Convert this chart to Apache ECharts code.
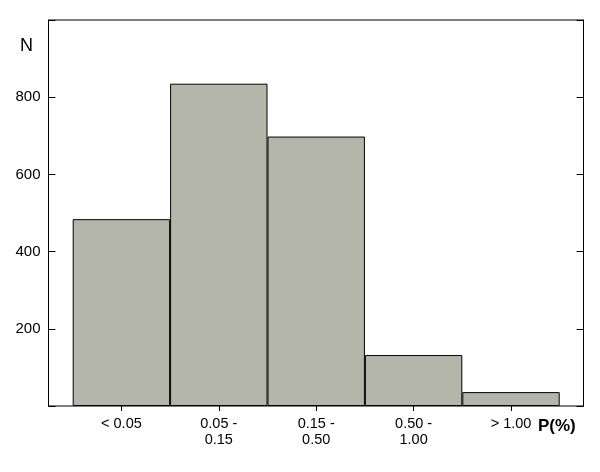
<!DOCTYPE html>
<html>
<head>
<meta charset="utf-8">
<script src="https://cdn.jsdelivr.net/npm/echarts@6/dist/echarts.min.js"></script>
<style>html,body{margin:0;padding:0;background:#fff;}#c{width:600px;height:472px;}</style>
</head>
<body>
<div id="c"></div>
<script>
const categories = ['< 0.05', '0.05 -\n0.15', '0.15 -\n0.50', '0.50 -\n1.00', '> 1.00'];
const counts = [484, 835, 698, 132, 36];
const yTicks = [200, 400, 600, 800];

const chart = echarts.init(document.getElementById('c'), null, {renderer: 'canvas'});
const font = 'Arial, "Liberation Sans", sans-serif';
chart.setOption({
  animation: false,
  backgroundColor: '#fff',
  grid: [
    {left: 48.5, right: 16.5, top: 20, bottom: 66, show: true, borderColor: '#000', borderWidth: 1, backgroundColor: 'transparent'},
    {left: 72.7, right: 40.3, top: 20, bottom: 66}
  ],
  xAxis: [
    {gridIndex: 0, type: 'value', min: 0, max: 1, show: false},
    {gridIndex: 1, type: 'category', data: categories,
     axisLine: {show: false},
     axisTick: {show: true, alignWithLabel: true, length: 5, inside: false, lineStyle: {color: '#000', width: 1}},
     axisLabel: {color: '#000', fontFamily: font, fontSize: 14.5, lineHeight: 16, margin: 10, interval: 0}
    }
  ],
  yAxis: [
    {gridIndex: 0, type: 'value', min: 0, max: 1000, interval: 200, position: 'left',
     axisLine: {show: true, lineStyle: {color: '#000'}},
     axisTick: {show: true, inside: true, length: 7, lineStyle: {color: '#000'}},
     splitLine: {show: false},
     axisLabel: {color: '#000', fontFamily: font, fontSize: 15, margin: 8,
       formatter: v => yTicks.indexOf(v) >= 0 ? String(v) : ''}
    },
    {gridIndex: 0, type: 'value', min: 0, max: 1000, interval: 200, position: 'right',
     axisLine: {show: true, lineStyle: {color: '#000'}},
     axisTick: {show: true, inside: true, length: 7, lineStyle: {color: '#000'}},
     splitLine: {show: false},
     axisLabel: {show: false}
    },
    {gridIndex: 1, type: 'value', min: 0, max: 1000, show: false}
  ],
  series: [{
    type: 'bar', xAxisIndex: 1, yAxisIndex: 2,
    data: counts,
    barWidth: '100%', barCategoryGap: '0%',
    itemStyle: {color: '#b5b6aa', borderColor: '#000', borderWidth: 1}
  }],
  graphic: [
    {type: 'text', left: 20, top: 37, style: {text: 'N', fontFamily: font, fontSize: 18, fill: '#000'}},
    {type: 'text', left: 538, top: 418, style: {text: 'P(%)', fontFamily: font, fontSize: 17, fontWeight: 'bold', fill: '#000'}}
  ]
});
</script>
</body>
</html>
